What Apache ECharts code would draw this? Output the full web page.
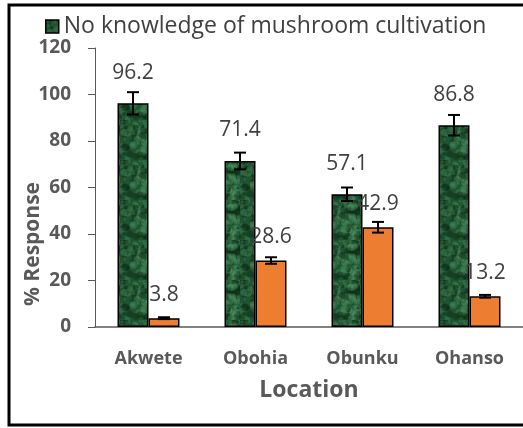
<!DOCTYPE html>
<html>
<head>
<meta charset="utf-8">
<script src="https://cdn.jsdelivr.net/npm/echarts@6/dist/echarts.min.js"></script>
<style>
  html, body { margin: 0; padding: 0; background: #fff; }
  #chart { width: 523px; height: 428px; }
</style>
</head>
<body>
<div id="chart"></div>
<script>
var locations = ['Akwete', 'Obohia', 'Obunku', 'Ohanso'];
var noKnowledge = [96.2, 71.4, 57.1, 86.8];
var hasKnowledge = [3.8, 28.6, 42.9, 13.2];
// error bar half-widths
var noKnowledgeErr = [4.8, 3.6, 2.9, 4.4];
var hasKnowledgeErr = [0.4, 1.4, 2.3, 0.6];

// mottled dark green fill like the reference bars
function greenTexture() {
  var c = document.createElement('canvas');
  c.width = 40; c.height = 40;
  var ctx = c.getContext('2d');
  ctx.fillStyle = '#1e5230';
  ctx.fillRect(0, 0, 40, 40);
  var seed = 7;
  function rnd() { seed = (seed * 16807) % 2147483647; return seed / 2147483647; }
  for (var i = 0; i < 140; i++) {
    var x = rnd() * 40, y = rnd() * 40, r = 1 + rnd() * 3;
    var light = rnd() > 0.5;
    ctx.fillStyle = light ? 'rgba(80,150,100,0.35)' : 'rgba(10,40,20,0.45)';
    ctx.beginPath(); ctx.arc(x, y, r, 0, Math.PI * 2); ctx.fill();
  }
  return c;
}
var greenFill = { image: greenTexture(), repeat: 'repeat' };

var chart = echarts.init(document.getElementById('chart'));

function errorSeries(vals, errs, offset) {
  var data = vals.map(function (v, i) { return [i, v - errs[i], v + errs[i]]; });
  return {
    type: 'custom',
    silent: true,
    z: 10,
    renderItem: function (params, api) {
      var lo = api.coord([api.value(0), api.value(1)]);
      var hi = api.coord([api.value(0), api.value(2)]);
      var x = lo[0] + offset;
      var cap = 6;
      var st = { stroke: '#000', lineWidth: 2 };
      return {
        type: 'group',
        children: [
          { type: 'line', shape: { x1: x, y1: lo[1], x2: x, y2: hi[1] }, style: st },
          { type: 'line', shape: { x1: x - cap, y1: lo[1], x2: x + cap, y2: lo[1] }, style: st },
          { type: 'line', shape: { x1: x - cap, y1: hi[1], x2: x + cap, y2: hi[1] }, style: st }
        ]
      };
    },
    encode: { x: 0, y: [1, 2] },
    data: data
  };
}

var option = {
  animation: false,
  textStyle: { fontFamily: 'Open Sans' },
  graphic: [
    {
      type: 'rect',
      shape: { x: 9, y: 5, width: 530, height: 420 },
      style: { fill: 'none', stroke: '#000', lineWidth: 3 },
      silent: true
    },
    {
      // y axis title sits lower than the plot centre in the original
      type: 'text',
      x: 33,
      y: 244,
      rotation: Math.PI / 2,
      style: {
        text: '% Response',
        fontSize: 21,
        fontWeight: 'bold',
        fontFamily: 'Open Sans',
        fill: '#595959',
        align: 'center',
        verticalAlign: 'middle'
      }
    }
  ],
  legend: {
    data: [{ name: 'No knowledge of mushroom cultivation', icon: 'rect' }],
    left: 40,
    top: 10,
    itemWidth: 13,
    itemHeight: 13,
    itemGap: 4,
    itemStyle: { borderColor: '#000', borderWidth: 1.5 },
    textStyle: { fontSize: 23, color: '#404040', fontFamily: 'Open Sans' }
  },
  grid: { left: 95, right: -5, top: 48, bottom: 101 },
  xAxis: {
    type: 'category',
    data: locations,
    name: 'Location',
    nameLocation: 'middle',
    nameGap: 52,
    nameMoveOverlap: false,
    nameTextStyle: { fontSize: 23, fontWeight: 'bold', color: '#595959', fontFamily: 'Open Sans' },
    axisLine: { lineStyle: { color: '#595959', width: 1.5 } },
    axisTick: { show: false },
    axisLabel: { fontSize: 18, fontWeight: 'bold', color: '#595959', margin: 23 }
  },
  yAxis: {
    type: 'value',
    min: 0,
    max: 120,
    interval: 20,
    axisLine: { show: true, lineStyle: { color: '#595959' } },
    axisTick: { show: true, inside: false, length: 7, lineStyle: { color: '#595959' } },
    axisLabel: { fontSize: 19, fontWeight: 'bold', color: '#595959', margin: 24 },
    splitLine: { show: false }
  },
  series: [
    {
      name: 'No knowledge of mushroom cultivation',
      type: 'bar',
      data: noKnowledge,
      barWidth: 31,
      barGap: '0%',
      itemStyle: { color: greenFill, borderColor: '#000', borderWidth: 1.5 },
      label: { show: true, position: 'top', distance: 20, fontSize: 21, color: '#404040' }
    },
    {
      name: 'Knowledge of mushroom cultivation',
      type: 'bar',
      data: hasKnowledge,
      barWidth: 31,
      barGap: '0%',
      itemStyle: { color: '#ed7d31', borderColor: '#000', borderWidth: 1.5 },
      label: { show: true, position: 'top', distance: 13, fontSize: 21, color: '#404040' }
    },
    errorSeries(noKnowledge, noKnowledgeErr, -15.5),
    errorSeries(hasKnowledge, hasKnowledgeErr, 15.5)
  ]
};
chart.setOption(option);
</script>
</body>
</html>
